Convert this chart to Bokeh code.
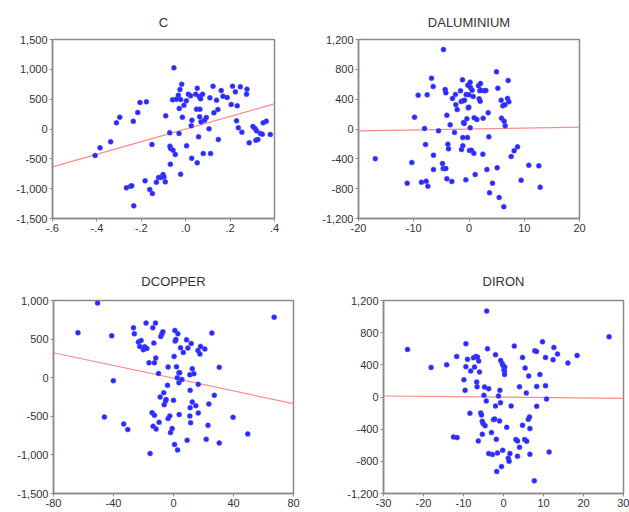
from bokeh.plotting import figure
from bokeh.layouts import column, row
from bokeh.models import FixedTicker, NumeralTickFormatter, CustomJSTickFormatter, Range1d
from bokeh.embed import file_html
from bokeh.resources import INLINE

# ---------------- data ----------------
titles = ["C", "DALUMINIUM", "DCOPPER", "DIRON"]

c_x = [-0.408, -0.386, -0.338, -0.312, -0.297, -0.236, -0.216, -0.206, -0.177, -0.152,
       -0.267, -0.248, -0.243, -0.234, -0.183, -0.162, -0.150, -0.132, -0.122, -0.110,
       -0.102, -0.098, -0.092, -0.090, -0.072, -0.071, -0.068, -0.069, -0.057, -0.053,
       -0.047, -0.059, -0.042, -0.033, -0.029, -0.026, -0.023, -0.018, -0.015, -0.030,
       -0.023, -0.008, 0.003, 0.004, 0.012, 0.022, 0.025, 0.028, 0.027, 0.045,
       0.052, 0.049, 0.052, 0.058, 0.063, 0.064, 0.061, 0.067, 0.069, 0.076,
       0.079, 0.085, 0.093, 0.105, 0.109, 0.112, 0.123, 0.127, 0.139, 0.145,
       0.147, 0.160, 0.168, 0.187, 0.205, 0.211, 0.224, 0.232, 0.229, 0.237,
       0.246, 0.253, 0.276, 0.274, 0.286, 0.303, 0.312, 0.319, 0.316, 0.325,
       0.337, 0.345, 0.349, 0.363, 0.381]
c_y = [-444, -316, -215, 103, 198, 131, 277, 444, 455, -260,
       -986, -958, -953, -1288, -869, -1014, -1081, -891, -813, -813,
       -763, -802, -886, 221, -64, -288, -327, -589, -355, 1025,
       -427, 489, 500, 567, 344, 662, 494, 751, 198, -75,
       -757, 399, 472, -282, 584, 556, 53, 148, -489, 584,
       684, 333, -567, -131, 204, 333, 545, 506, 120, 584,
       -411, 148, 193, 3, 522, -411, 718, 271, 483, 327,
       -176, 645, 550, 528, 411, 718, 623, 388, 137, 20,
       707, -53, 668, 584, -232, 42, 8, -31, -187, -176,
       -75, -87, 103, 131, -92]

al_x = [-16.96, -10.35, -11.19, -9.86, -9.20, -8.60, -8.05, -7.87, -7.75, -7.57,
        -7.45, -6.79, -6.49, -6.43, -6.43, -5.52, -4.80, -4.62, -4.68, -4.43,
        -4.31, -4.19, -4.19, -4.01, -4.01, -3.83, -3.71, -3.41, -3.11, -2.99,
        -2.62, -2.44, -2.38, -2.14, -1.54, -1.42, -1.36, -1.18, -1.12, -1.12,
        -1.06, -1.00, -0.87, -0.81, -0.57, -0.51, -0.39, -0.27, -0.21, -0.15,
        -0.03, -0.03, 0.09, 0.21, 0.21, 0.27, 0.45, 0.57, 0.75, 0.87,
        0.94, 1.12, 1.42, 1.72, 1.84, 1.96, 2.02, 2.08, 2.14, 2.50,
        2.56, 2.74, 3.05, 3.23, 3.47, 3.59, 3.71, 4.25, 4.98, 5.10,
        5.22, 5.46, 5.82, 5.88, 6.12, 6.36, 6.30, 6.49, 6.55, 6.97,
        7.09, 7.21, 7.63, 8.17, 8.78, 9.44, 10.83, 12.64, 12.88]
al_y = [-400, -449, -726, 159, 454, -713, 7, -208, -699, 458,
        -766, 681, 570, -351, -543, -25, -463, 1066, -530, -530,
        530, 485, -530, -668, 185, -203, -266, 56, -704, 409,
        -47, 463, 324, 261, 512, 369, -275, 659, -114, -226,
        378, 87, 74, 387, -682, 463, 136, -114, 588, 284,
        293, 458, -288, 628, 16, 556, -284, 521, 436, -324,
        150, -610, 127, 579, 405, 512, 373, 610, 521, -337,
        145, 512, 516, -543, 217, -105, -856, -726, 767, -521,
        547, -918, 387, 145, 311, 105, -1043, 324, 42, 409,
        650, 364, -369, -293, -239, -686, -485, -494, -780]

cu_x = [-63.7, -50.6, -46.1, -41.2, -40.1, -33.2, -30.5, -26.7, -26.1, -23.4,
        -22.5, -21.6, -20.1, -19.2, -18.3, -17.8, -16.3, -15.6, -14.3, -13.8,
        -13.6, -13.1, -12.7, -12.7, -12.0, -11.8, -11.6, -10.0, -9.6, -8.9,
        -8.5, -7.8, -7.1, -6.5, -6.2, -5.3, -4.9, -4.0, -3.6, -3.6,
        -2.5, -2.0, -0.9, 0.0, 0.4, 0.9, 1.1, 1.6, 0.7, 2.0,
        2.5, 2.7, 2.9, 3.6, 3.6, 3.8, 4.2, 4.7, 5.6, 6.5,
        9.1, 8.7, 9.6, 10.9, 11.1, 11.1, 10.9, 11.4, 11.8, 12.5,
        12.5, 13.6, 14.9, 16.5, 16.3, 16.5, 17.6, 18.0, 20.9, 21.8,
        23.0, 23.6, 25.6, 27.2, 30.5, 30.5, 39.7, 49.5, 67.1]
cu_y = [582, 966, -509, 543, -39, -599, -672, 647, 569, 461,
        405, 483, 362, 401, 707, 379, 194, -983, -453, 647,
        -629, 448, 194, -487, 707, 254, -664, 56, -578, -250,
        534, 565, 595, -194, -349, -302, -284, -99, 138, -530,
        -496, -711, -659, -293, 276, 612, 474, 496, -866, 142,
        0, -935, 569, 65, -65, -478, 65, 388, -22, 328,
        -810, 491, 384, 39, -164, -388, -496, -582, 444, 116,
        -315, 52, -362, -86, 353, -457, 306, 405, 371, -797,
        -616, -340, 578, -228, 134, -845, -513, -728, 784]

fe_x = [-24.0, -18.1, -14.2, -12.5, -11.6, -11.7, -9.9, -9.6, -9.4, -9.4,
        -9.0, -8.4, -8.2, -7.5, -7.25, -6.9, -6.7, -6.6, -6.5, -6.3,
        -6.2, -6.0, -5.7, -5.5, -5.3, -5.3, -5.1, -4.9, -4.75, -4.6,
        -4.3, -4.2, -4.0, -3.7, -3.7, -3.0, -2.75, -2.5, -2.2, -2.0,
        -2.0, -1.8, -1.7, -1.5, -1.25, -1.0, -0.9, -0.75, -0.7, -0.5,
        -0.3, -0.2, -0.1, 0.1, 0.25, 0.25, 0.3, 0.8, 1.2, 1.4,
        1.6, 1.9, 2.7, 3.1, 3.5, 3.5, 4.0, 4.0, 4.75, 4.75,
        5.3, 5.4, 5.7, 5.8, 6.2, 6.3, 6.5, 6.6, 6.6, 7.7,
        7.8, 8.25, 8.3, 8.3, 9.1, 9.75, 10.5, 10.5, 10.75, 11.4,
        12.4, 12.6, 13.5, 16.1, 18.4, 26.4]
fe_y = [592, 368, 401, -497, -505, 505, 215, 83, 662, 377,
        468, -203, 323, 488, 372, 505, 186, 128, 497, -546,
        447, 310, -199, -223, -302, -463, -331, 21, 124, -356,
        -50, 1068, 600, 103, -703, -443, -716, -281, -273, -112,
        526, -526, -927, -695, 12, -298, 83, -70, 455, -865,
        414, -662, 393, 339, 323, 281, 372, -377, -761, -799,
        -703, -112, 633, -530, -546, -737, -625, 128, 492, -352,
        -530, 360, 50, -550, -277, 261, -248, -393, -712, -1043,
        575, 567, 132, -116, 281, 687, 492, 141, -25, -683,
        463, 617, 534, 422, 517, 749]

# fitted regression lines: (intercept, slope)
c_fit = (-0.4, 1056.0)
al_fit = (0.0, 1.25)
cu_fit = (-6.5, -4.12)
fe_fit = (-2.0, -0.48)

# axis limits and ticks
c_xticks = [-0.6, -0.4, -0.2, 0.0, 0.2, 0.4]
c_yticks = [-1500, -1000, -500, 0, 500, 1000, 1500]
al_xticks = [-20, -10, 0, 10, 20]
al_yticks = [-1200, -800, -400, 0, 400, 800, 1200]
cu_xticks = [-80, -40, 0, 40, 80]
cu_yticks = [-1500, -1000, -500, 0, 500, 1000]
fe_xticks = [-30, -20, -10, 0, 10, 20, 30]
fe_yticks = [-1200, -800, -400, 0, 400, 800, 1200]

FONT = "Liberation Sans"
GRAY = "#8a8a8a"
TXT = "#333333"


def make_panel(title, xs, ys, xticks, yticks, fit, decimal_x,
               fw, fh, bl, br, bt, bb, standoff):
    x0, x1 = xticks[0], xticks[-1]
    y0, y1 = yticks[0], yticks[-1]
    p = figure(frame_width=fw, frame_height=fh,
               x_range=Range1d(x0, x1), y_range=Range1d(y0, y1),
               output_backend="svg", toolbar_location=None,
               min_border_left=bl, min_border_right=br,
               min_border_top=bt, min_border_bottom=bb,
               background_fill_color="white", border_fill_color="white")
    p.title.text = title
    p.title.align = "center"
    p.title.vertical_align = "top"
    p.title.text_font = FONT
    p.title.text_font_size = "13px"
    p.title.text_font_style = "normal"
    p.title.text_color = TXT
    p.title.standoff = standoff
    p.outline_line_color = GRAY
    p.outline_line_width = 1.5
    p.grid.visible = False
    for ax in (p.xaxis[0], p.yaxis[0]):
        ax.axis_line_color = GRAY
        ax.axis_line_width = 1.5
        ax.major_tick_line_color = GRAY
        ax.major_tick_in = 0
        ax.major_tick_out = 3
        ax.minor_tick_line_color = None
        ax.major_label_text_font = FONT
        ax.major_label_text_font_size = "11px"
        ax.major_label_text_color = TXT
        ax.major_label_standoff = 2
    p.xaxis[0].ticker = FixedTicker(ticks=xticks)
    p.yaxis[0].ticker = FixedTicker(ticks=yticks)
    p.yaxis[0].formatter = NumeralTickFormatter(format="0,0")
    if decimal_x:
        p.xaxis[0].formatter = CustomJSTickFormatter(
            code="var s = tick.toFixed(1); return s.replace('0.', '.');")
    else:
        p.xaxis[0].formatter = NumeralTickFormatter(format="0")
    b, m = fit
    p.line([x0, x1], [b + m * x0, b + m * x1], line_color="#ff8a8a", line_width=1.2)
    p.scatter(xs, ys, size=5, fill_color="#2b2bff", line_color="#4a4aff",
              line_width=0.5)
    return p


p1 = make_panel(titles[0], c_x, c_y, c_xticks, c_yticks, c_fit, True,
                222, 179, 52, 20, 39, 40, 16)
p2 = make_panel(titles[1], al_x, al_y, al_xticks, al_yticks, al_fit, False,
                221, 179, 64, 20, 39, 40, 16)
p3 = make_panel(titles[2], cu_x, cu_y, cu_xticks, cu_yticks, cu_fit, False,
                240, 193, 53, 25, 42, 18, 20)
p4 = make_panel(titles[3], fe_x, fe_y, fe_xticks, fe_yticks, fe_fit, False,
                240, 193, 65, 6, 42, 18, 20)

layout = column(row(p1, p2), row(p3, p4))
open("out.html", "w").write(file_html(layout, INLINE))
